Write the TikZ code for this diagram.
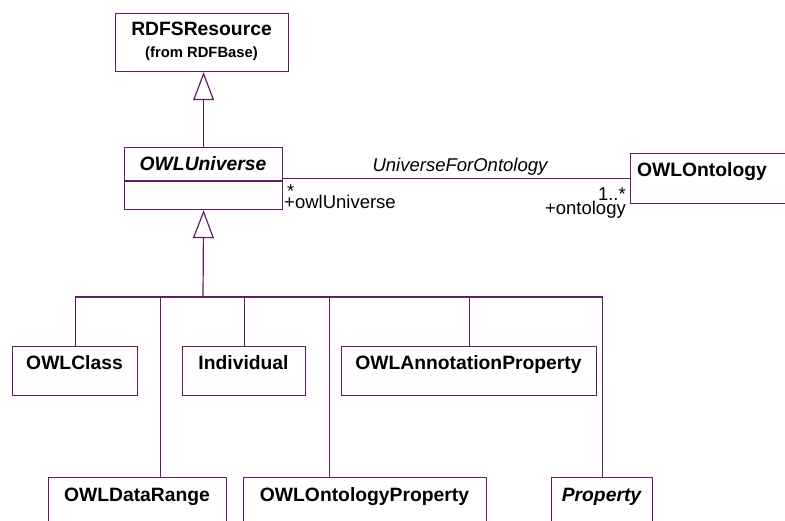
\documentclass[tikz,border=0pt]{standalone}
\usepackage{fontspec}
\setmainfont{Liberation Sans}
\usetikzlibrary{arrows.meta}
\definecolor{umlline}{RGB}{96,30,96}
\newcommand{\leftstack}[3]{\vbox{\lineskiplimit=-100pt\baselineskip=#1\relax\hbox{#2}\hbox{#3}}}
\newcommand{\rightstack}[3]{\setbox0=\hbox{#2}\setbox2=\hbox{#3}%
  \vbox{\lineskiplimit=-100pt\baselineskip=#1\relax\hbox to \wd2{\hfil\box0}\box2}}
\tikzset{
  umlbox/.style={draw=umlline, line width=1.2pt, rectangle, inner sep=0pt, anchor=north west},
  conn/.style={draw=umlline, line width=1.2pt},
  gen/.style={conn, -{Triangle[open, length=28pt, width=21pt, line width=1.2pt]}},
  cname/.style={font=\fontsize{19.3}{22}\selectfont\bfseries, anchor=base, inner sep=0pt},
  iname/.style={font=\fontsize{19.3}{22}\selectfont\bfseries\itshape, anchor=base, inner sep=0pt},
  role/.style={inner sep=0pt, font=\fontsize{18.5}{21}\selectfont},
}
\begin{document}
\begin{tikzpicture}[x=1pt, y=-1pt]
\useasboundingbox (0,0) rectangle (785,521);
\clip (0,0) rectangle (785,521);
% boxes
\node[umlbox, minimum width=173pt, minimum height=58pt] (rdfs) at (115,13) {};
\node[umlbox, minimum width=158pt, minimum height=62pt] (univ) at (124,147) {};
\draw[conn] (univ.west |- 0,181) -- (univ.east |- 0,181);
\node[umlbox, minimum width=175pt, minimum height=50pt] (onto) at (630,153) {};
\node[umlbox, minimum width=125pt, minimum height=49pt] (cls) at (12,346) {};
\node[umlbox, minimum width=123pt, minimum height=49pt] (ind) at (182,346) {};
\node[umlbox, minimum width=255pt, minimum height=49pt] (ann) at (341,346) {};
\node[umlbox, minimum width=178pt, minimum height=60pt] (dr) at (48,477) {};
\node[umlbox, minimum width=243pt, minimum height=60pt] (op) at (243,477) {};
\node[umlbox, minimum width=101pt, minimum height=60pt] (prop) at (551,477) {};
% texts
\node[cname] (t1) at (201.5,36) {RDFSResource};
\node[cname, font=\fontsize{14.8}{17}\selectfont\bfseries] (t1b) at (201.5,58) {(from RDFBase)};
\node[iname] (t2) at (203,170.7) {OWLUniverse};
\node[cname] (t3) at (702,176.7) {OWLOntology};
\node[cname] (t4) at (74.5,370) {OWLClass};
\node[cname] (t5) at (243.5,370) {Individual};
\node[cname] (t6) at (468.5,370) {OWLAnnotationProperty};
\node[cname] (t7) at (137,501) {OWLDataRange};
\node[cname] (t8) at (364.5,501) {OWLOntologyProperty};
\node[iname] (t9) at (601.5,501.5) {Property};
% generalization to RDFSResource
\draw[gen] (univ.north) -- (univ.north |- rdfs.south);
% association
\draw[conn] (onto.west) -- (onto.west -| univ.east);
\node[role, font=\fontsize{18.5}{21}\selectfont\itshape, anchor=base] (an) at (460,171.5) {UniverseForOntology};
\node[role, anchor=north west] (r1) at (284,185)
  {\leftstack{10.5pt}{\hspace{3pt}*}{+owlUniverse}};
\node[role, anchor=north east] (r2) at (626,187.5)
  {\rightstack{14pt}{1..*}{+ontology}};
% generalization tree
\coordinate (j) at (203,297);
\draw[gen] (j) -- (univ.south);
\draw[conn] (cls.north) |- (j);
\draw[conn] ([xshift=23pt]dr.north) |- (j);
\draw[conn] (ind.north) |- (j);
\draw[conn] ([xshift=-35.5pt]op.north) |- (j);
\draw[conn] (ann.north) |- (j);
\draw[conn] (prop.north) |- (j);
\end{tikzpicture}
\end{document}
